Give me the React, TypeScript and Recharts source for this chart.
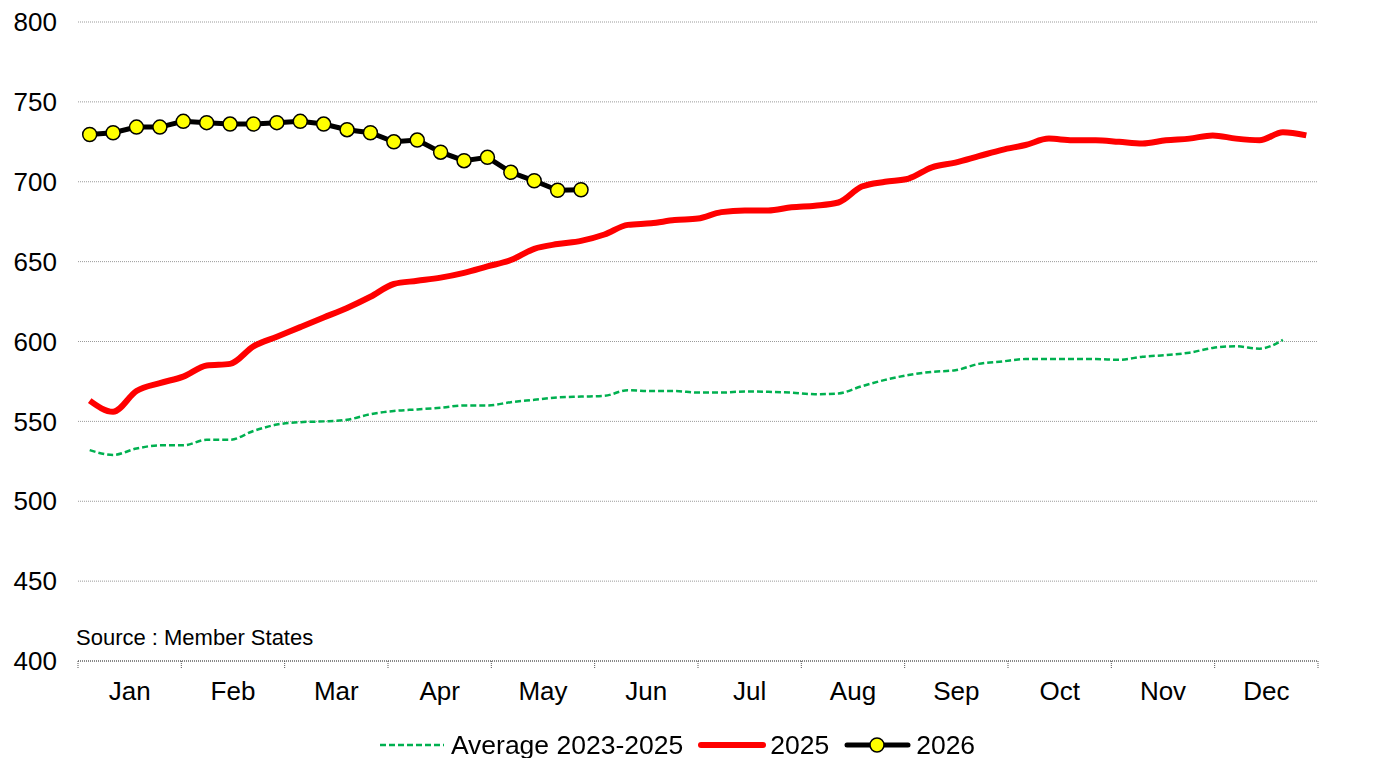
import React from 'react';
import { LineChart, Line, XAxis, YAxis, CartesianGrid, Legend } from 'recharts';

const MONTHS = ['Jan', 'Feb', 'Mar', 'Apr', 'May', 'Jun', 'Jul', 'Aug', 'Sep', 'Oct', 'Nov', 'Dec'];

// weekly values, week 1..53
const AVG_2023_2025 = [
  532, 529, 533, 535, 535, 538.5, 538.5, 544, 548, 549.5, 550, 551, 554.5, 556.5, 557.5, 558.5, 560, 560,
  562, 563.5, 565, 565.5, 566, 569.5, 569, 569, 568, 568, 568.7, 568.5, 568, 567, 567.5, 572, 576, 579,
  581, 582, 586, 587.5, 589, 589, 589, 589, 588.5, 590.5, 591.5, 593, 596, 597, 595.5, 601,
];

const Y2025 = [
  563, 556, 569, 574, 578, 585, 586, 597, 603, 609, 615, 621, 628, 636, 638, 640, 643, 647, 651, 658, 661,
  663, 667, 673, 674, 676, 677, 681, 682, 682, 684, 685, 687, 697, 700, 702, 709, 712, 716, 720, 723, 727,
  726, 726, 725, 724, 726, 727, 729, 727, 726, 731, 729,
];

const Y2026 = [
  729.6, 730.7, 734.2, 734.2, 737.8, 737.0, 736.1, 736.1, 737.0, 737.8, 736.1, 732.6, 730.7, 725.0, 726.1,
  718.5, 713.2, 715.3, 705.9, 700.6, 694.7, 695.0,
];

const Y_TICKS = [400, 450, 500, 550, 600, 650, 700, 750, 800];

const WEEK_COUNT = 53;
const FONT = '"Liberation Sans", Arial, sans-serif';

const chartData = Array.from({ length: WEEK_COUNT }, (_, i) => ({
  week: i + 1,
  avg: AVG_2023_2025[i],
  y2025: Y2025[i],
  y2026: Y2026[i],
}));

// month boundaries and mid-month label positions in week units
const monthToWeek = (m: number) => 0.5 + (m * WEEK_COUNT) / 12;
const X_TICKS: number[] = [];
for (let k = 0; k <= 24; k++) X_TICKS.push(monthToWeek(k / 2));

const MonthTick = (props: any) => {
  const { x, y, payload } = props;
  const k = Math.round(((payload.value - 0.5) * 12 * 2) / WEEK_COUNT);
  if (k % 2 === 0) {
    return <line x1={x} x2={x} y1={y} y2={y + 7} stroke="#555" strokeDasharray="1 1" />;
  }
  return (
    <text x={x} y={y + 30} dy="0.36em" textAnchor="middle" fontSize={26} fontFamily={FONT} fill="#000">
      {MONTHS[(k - 1) / 2]}
    </text>
  );
};

const LegendContent = () => {
  const item = { display: 'flex', alignItems: 'center', marginRight: 15 } as React.CSSProperties;
  return (
    <div
      style={{
        display: 'flex',
        justifyContent: 'center',
        alignItems: 'flex-end',
        height: 47,
        fontFamily: FONT,
        fontSize: 26.5,
        lineHeight: '26px',
        color: '#000',
        paddingRight: 16,
      }}
    >
      <div style={item}>
        <svg width={64} height={12} style={{ marginRight: 7 }}>
          <line x1={0} x2={64} y1={6} y2={6} stroke="#00b050" strokeWidth={2.5} strokeDasharray="6 3" />
        </svg>
        Average 2023-2025
      </div>
      <div style={item}>
        <svg width={68} height={12} style={{ marginRight: 4 }}>
          <line x1={3} x2={65} y1={6} y2={6} stroke="#ff0000" strokeWidth={6} strokeLinecap="round" />
        </svg>
        2025
      </div>
      <div style={item}>
        <svg width={67} height={18} style={{ marginRight: 5 }}>
          <line x1={3} x2={64} y1={9} y2={9} stroke="#000" strokeWidth={5} strokeLinecap="round" />
          <circle cx={33} cy={9} r={7} fill="#ffff00" stroke="#000" strokeWidth={1.5} />
        </svg>
        2026
      </div>
    </div>
  );
};

export default function App() {
  return (
    <div style={{ position: 'fixed', left: 0, top: 0, width: 1386, height: 758, background: '#fff' }}>
      <LineChart width={1386} height={758} data={chartData} margin={{ top: 22, right: 0, bottom: 0, left: 0 }}>
        <CartesianGrid vertical={false} stroke="#9a9a9a" strokeDasharray="1 1" yAxisId="left" />
        <XAxis
          dataKey="week"
          type="number"
          domain={[0.5, WEEK_COUNT + 0.5]}
          ticks={X_TICKS}
          interval={0}
          tick={<MonthTick />}
          tickLine={false}
          tickSize={0}
          tickMargin={0}
          height={50}
          axisLine={{ stroke: '#444', strokeDasharray: '1 1' }}
        />
        <YAxis
          yAxisId="left"
          domain={[400, 800]}
          ticks={Y_TICKS}
          width={78}
          axisLine={false}
          tickLine={false}
          tickSize={0}
          tickMargin={21}
          tick={{ fontSize: 26, fontFamily: FONT, fill: '#000' }}
        />
        <YAxis
          yAxisId="right"
          orientation="right"
          domain={[400, 800]}
          ticks={Y_TICKS}
          width={68}
          axisLine={false}
          tickLine={false}
          tickSize={0}
          tickMargin={19}
          tick={{ fontSize: 26, fontFamily: FONT, fill: '#000', textAnchor: 'start' }}
        />
        <Legend verticalAlign="bottom" content={<LegendContent />} wrapperStyle={{ height: 47 }} />
        <Line
          yAxisId="left"
          dataKey="avg"
          name="Average 2023-2025"
          type="monotone"
          stroke="#00b050"
          strokeWidth={2.5}
          strokeDasharray="6 3"
          dot={false}
          isAnimationActive={false}
        />
        <Line
          yAxisId="left"
          dataKey="y2025"
          name="2025"
          type="monotone"
          stroke="#ff0000"
          strokeWidth={6}
          dot={false}
          isAnimationActive={false}
        />
        <Line
          yAxisId="left"
          dataKey="y2026"
          name="2026"
          type="linear"
          stroke="#000"
          strokeWidth={5}
          dot={{ r: 7, fill: '#ffff00', stroke: '#000', strokeWidth: 1.5 }}
          isAnimationActive={false}
        />
      </LineChart>
      <div
        style={{
          position: 'absolute',
          left: 76,
          top: 625,
          fontFamily: FONT,
          fontSize: 22,
          lineHeight: '26px',
          color: '#000',
        }}
      >
        Source : Member States
      </div>
    </div>
  );
}
